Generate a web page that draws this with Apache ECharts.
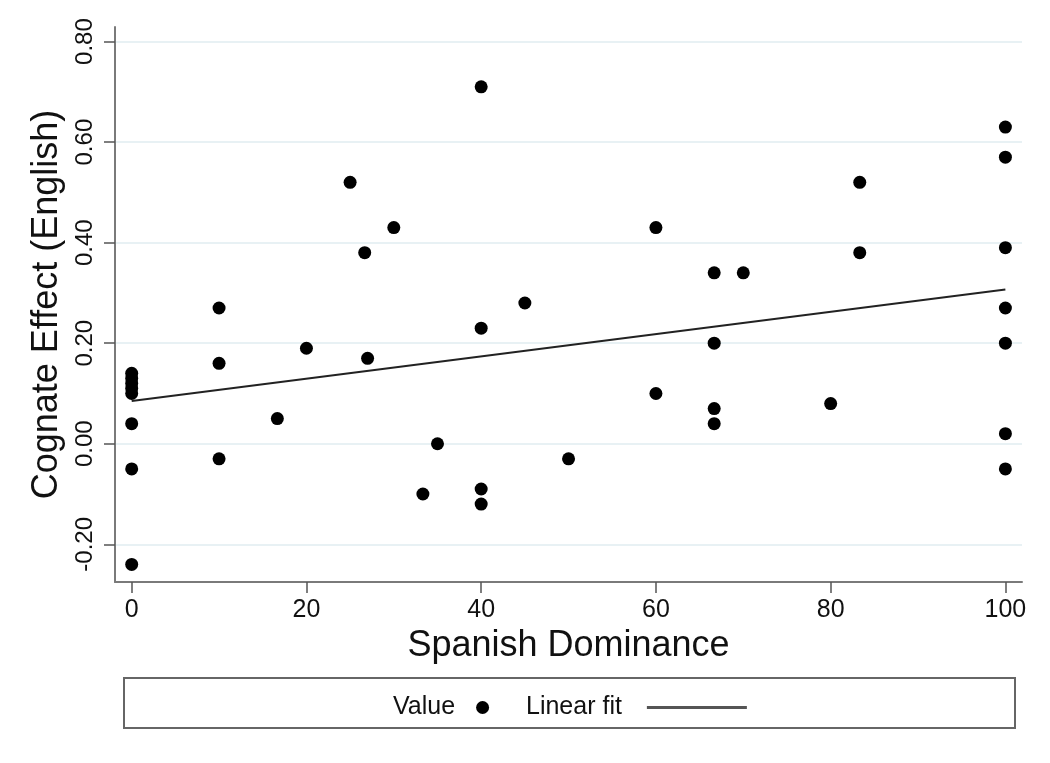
<!DOCTYPE html>
<html>
<head>
<meta charset="utf-8">
<script src="https://cdn.jsdelivr.net/npm/echarts@6/dist/echarts.min.js"></script>
<style>html,body{margin:0;padding:0;background:#fff}#c{width:1050px;height:763px}</style>
</head>
<body>
<div id="c"></div>
<script>
// Spanish Dominance (x) and Cognate Effect (English) (y)
const dominance = [0,0,0,0,0,0,0,0,
  10,10,10,16.67,20,25,26.67,27,30,33.33,35,
  40,40,40,40,45,50,60,60,66.67,66.67,66.67,66.67,70,80,83.33,83.33,
  100,100,100,100,100,100,100];
const cognateEffect = [0.14,0.13,0.12,0.11,0.10,0.04,-0.05,-0.24,
  0.27,0.16,-0.03,0.05,0.19,0.52,0.38,0.17,0.43,-0.10,0.00,
  0.71,0.23,-0.09,-0.12,0.28,-0.03,0.43,0.10,0.34,0.20,0.07,0.04,0.34,0.08,0.52,0.38,
  0.63,0.57,0.39,0.27,0.20,0.02,-0.05];
const fitX = [0, 100];
const fitY = [0.085, 0.307];
const xTicks = [0,20,40,60,80,100];
const yTicks = [-0.2,0,0.2,0.4,0.6,0.8];

const font = 'Liberation Sans, Arial, Helvetica, sans-serif';
const chart = echarts.init(document.getElementById('c'), null, {renderer:'canvas'});
chart.setOption({
  animation: false,
  backgroundColor: '#fff',
  grid: {left: 115, right: 28, top: 27, bottom: 181, containLabel: false},
  xAxis: {
    type: 'value', min: -1.91, max: 101.9,
    name: 'Spanish Dominance', nameLocation: 'middle', nameGap: 43,
    nameTextStyle: {fontFamily: font, fontSize: 36, color: '#111'},
    axisLine: {show: true, onZero: false, lineStyle: {color: '#7a7a7a', width: 2}},
    axisTick: {show: true, customValues: xTicks, length: 11, lineStyle: {color: '#555', width: 1.5}},
    axisLabel: {customValues: xTicks, fontFamily: font, fontSize: 25, color: '#111', margin: 16},
    splitLine: {show: false}
  },
  yAxis: {
    type: 'value', min: -0.275, max: 0.829,
    name: 'Cognate Effect (English)', nameLocation: 'middle', nameGap: 46, nameRotate: 90,
    nameTextStyle: {fontFamily: font, fontSize: 36, color: '#111'},
    axisLine: {show: true, onZero: false, lineStyle: {color: '#7a7a7a', width: 2}},
    axisTick: {show: true, customValues: yTicks, length: 11, lineStyle: {color: '#555', width: 1.5}},
    axisLabel: {customValues: yTicks, rotate: 90, fontFamily: font, fontSize: 24, color: '#111', margin: 18,
      formatter: v => v.toFixed(2)},
    splitLine: {show: false}
  },
  legend: [
    {data: ['Value'], left: 388, top: 690, align: 'right', icon: 'circle', itemWidth: 13, itemHeight: 13,
     textStyle: {fontFamily: font, fontSize: 25, color: '#111', padding: [0, 16, 0, 0]}},
    {data: ['Linear fit'], left: 521, top: 690, align: 'right', icon: 'rect', itemWidth: 100, itemHeight: 3,
     itemStyle: {color: '#555'},
     textStyle: {fontFamily: font, fontSize: 25, color: '#111', padding: [0, 20, 0, 0]}}
  ],
  graphic: [
    {type: 'rect', left: 123, top: 677, shape: {width: 891, height: 50}, z: -1,
     style: {fill: '#fff', stroke: '#666', lineWidth: 2}}
  ],
  series: [
    {
      name: 'Linear fit', type: 'line', z: 2, symbol: 'none',
      data: fitX.map((x, i) => [x, fitY[i]]),
      lineStyle: {color: '#222', width: 2}
    },
    {
      name: 'Value', type: 'scatter', z: 3, symbol: 'circle', symbolSize: 13,
      itemStyle: {color: '#000', opacity: 1},
      data: dominance.map((x, i) => [x, cognateEffect[i]])
    },
    {
      name: 'gridlines', type: 'line', z: 0, data: [], silent: true,
      markLine: {
        z: 0, silent: true, symbol: 'none', label: {show: false},
        lineStyle: {color: '#e8f1f4', width: 2, type: 'solid'},
        data: yTicks.map(v => ({yAxis: v}))
      }
    }
  ]
});
</script>
</body>
</html>
